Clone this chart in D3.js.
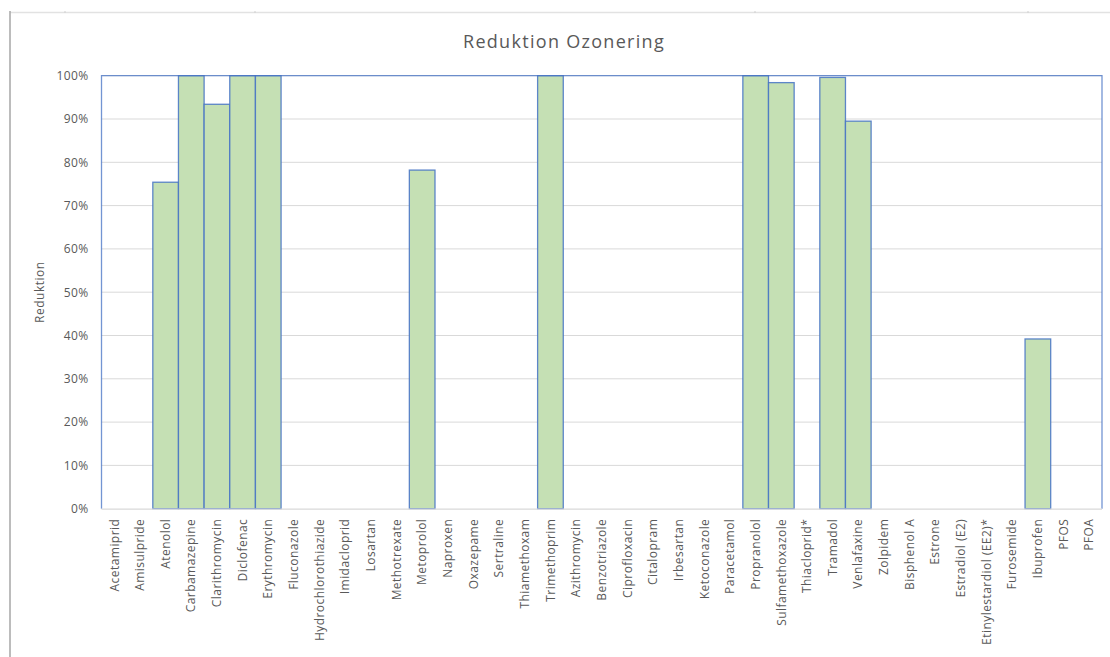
<!DOCTYPE html>
<html><head><meta charset="utf-8">
<script src="https://cdn.jsdelivr.net/npm/d3@7/dist/d3.min.js"></script>
<style>body{margin:0;background:#fff;} svg{display:block;}</style>
</head><body>
<svg id="c" width="1110" height="657"></svg>
<script>
const categories = ["Acetamiprid","Amisulpride","Atenolol","Carbamazepine","Clarithromycin","Diclofenac","Erythromycin","Fluconazole","Hydrochlorothiazide","Imidacloprid","Losartan","Methotrexate","Metoprolol","Naproxen","Oxazepame","Sertraline","Thiamethoxam","Trimethoprim","Azithromycin","Benzotriazole","Ciprofloxacin","Citalopram","Irbesartan","Ketoconazole","Paracetamol","Propranolol","Sulfamethoxazole","Thiacloprid*","Tramadol","Venlafaxine","Zolpidem","Bisphenol A","Estrone","Estradiol (E2)","Etinylestardiol (EE2)*","Furosemide","Ibuprofen","PFOS","PFOA"];
const reduction = [0,0,0.754,1,0.934,1,1,0,0,0,0,0,0.782,0,0,0,0,1,0,0,0,0,0,0,0,1,0.984,0,0.996,0.895,0,0,0,0,0,0,0.392,0,0];
const yTicks = [0,0.1,0.2,0.3,0.4,0.5,0.6,0.7,0.8,0.9,1];
const title = "Reduktion Ozonering";
const yTitle = "Reduktion";

(function(){
const svg = d3.select("#c");
const font = "Open Sans, Noto Sans, sans-serif";
const txt = "#595959";
const pL = 101.5, pR = 1102, pT = 75.7, pB = 508.7;

// outer frame (spreadsheet-like)
svg.append("line").attr("x1",10).attr("x2",1110).attr("y1",12.5).attr("y2",12.5).attr("stroke","#e2e2e2").attr("stroke-width",1.5);
[65,255,755,1028].forEach(xx=>svg.append("line").attr("x1",xx).attr("x2",xx).attr("y1",11).attr("y2",13).attr("stroke","#d0d0d0"));
svg.append("line").attr("x1",10).attr("x2",10).attr("y1",11).attr("y2",657).attr("stroke","#a6a6a6").attr("stroke-width",1.5);

const x = d3.scaleBand().domain(categories).range([pL,pR]).padding(0);
const y = d3.scaleLinear().domain([0,1]).range([pB,pT]);

// gridlines
svg.append("g").selectAll("line").data(yTicks.filter(d=>d>0)).join("line")
  .attr("x1",pL).attr("x2",pR).attr("y1",d=>y(d)).attr("y2",d=>y(d))
  .attr("stroke","#d9d9d9").attr("stroke-width",1);

// bars
svg.append("g").selectAll("rect").data(categories.map((c,i)=>({c,v:reduction[i]})).filter(d=>d.v>0)).join("rect")
  .attr("x",d=>x(d.c)).attr("width",x.bandwidth())
  .attr("y",d=>y(d.v)).attr("height",d=>y(0)-y(d.v))
  .attr("fill","#c5e0b4").attr("stroke","#4472c4").attr("stroke-width",1.3).attr("stroke-opacity",0.85);

// plot area blue border (left, top, right)
svg.append("path").attr("d",`M${pL},${pB}V${pT}H${pR}V${pB}`)
  .attr("fill","none").attr("stroke","#4472c4").attr("stroke-width",1.3).attr("stroke-opacity",0.75);

// x axis line
svg.append("line").attr("x1",pL).attr("x2",pR).attr("y1",pB+0.5).attr("y2",pB+0.5).attr("stroke","#d9d9d9").attr("stroke-width",1.3);

// y axis
const yAxis = d3.axisLeft(y).tickValues(yTicks).tickFormat(d3.format(".0%")).tickSize(0).tickPadding(13);
const ya = svg.append("g").attr("transform",`translate(${pL},0)`).call(yAxis);
ya.select(".domain").remove();
ya.selectAll("text").attr("font-family",font).attr("font-size",12).attr("letter-spacing","0.4px").attr("fill",txt);

// x axis labels
const xAxis = d3.axisBottom(x).tickSize(0).tickPadding(0);
const xa = svg.append("g").attr("transform",`translate(0,${pB})`).call(xAxis);
xa.select(".domain").remove();
xa.selectAll("text").attr("font-family",font).attr("font-size",12).attr("letter-spacing","0.45px").attr("fill",txt)
  .attr("transform","rotate(-90)").attr("text-anchor","end").attr("dy","0.35em").attr("x",-10).attr("y",0);

// titles
svg.append("text").attr("x",564).attr("y",48).attr("text-anchor","middle")
  .attr("font-family",font).attr("font-size",18).attr("letter-spacing","1.3px").attr("fill",txt).text(title);
svg.append("text").attr("transform",`translate(44,${(pT+pB)/2}) rotate(-90)`).attr("text-anchor","middle")
  .attr("font-family",font).attr("font-size",12).attr("letter-spacing","0.5px").attr("fill",txt).text(yTitle);
})();
</script>
</body></html>
